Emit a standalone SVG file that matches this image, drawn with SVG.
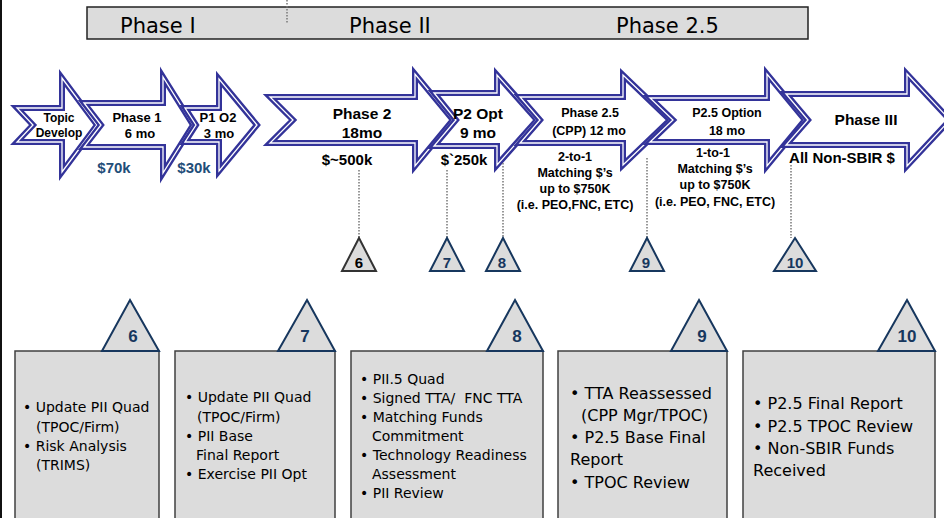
<svg xmlns="http://www.w3.org/2000/svg" width="944" height="518" viewBox="0 0 944 518">
<style>
.arrow{fill:#fff;stroke:#333399;stroke-width:6;stroke-linejoin:miter;stroke-miterlimit:10}
.arrowline{fill:none;stroke:#fff;stroke-width:1.3;stroke-linejoin:miter;stroke-miterlimit:10}
.at{font-family:"Liberation Sans",Arial,sans-serif;font-weight:bold;fill:#000;text-anchor:middle}
.money{font-family:"Liberation Sans",Arial,sans-serif;font-weight:bold;fill:#1f4e79;font-size:15px;text-anchor:middle}
.phase{font-family:"DejaVu Sans",sans-serif;font-size:21px;fill:#000}
.box{fill:#dcdcdc;stroke:#404040;stroke-width:1.5}
.bt{font-family:"DejaVu Sans",sans-serif;font-size:14px;fill:#000;white-space:pre}
.bt2{font-family:"DejaVu Sans",sans-serif;font-size:16px;fill:#000}
.tri{fill:#dcdcdc;stroke:#17375e;stroke-width:2;stroke-linejoin:miter}
.trig{fill:#dcdcdc;stroke:#333;stroke-width:2;stroke-linejoin:miter}
.tn{font-family:"Liberation Sans",Arial,sans-serif;font-weight:bold;fill:#17375e;text-anchor:middle}
.dot{stroke:#777;stroke-width:1.5;stroke-dasharray:1.5,1.5;fill:none}
</style>

<rect x="0" y="0" width="2" height="518" fill="#111"/>

<g id="phasebar">
<rect x="87" y="7" width="721" height="32" fill="#dcdcdc" stroke="#222" stroke-width="1.5"/>
<line x1="287" y1="0" x2="287" y2="23" class="dot"/>
<text class="phase" x="120" y="33">Phase I</text>
<text class="phase" x="349" y="33">Phase II</text>
<text class="phase" x="616" y="33">Phase 2.5</text>
</g>

<g id="arrow-topic">
<path class="arrow" d="M17,108 L62,108 L62,78 L97,125 L62,172 L62,142 L17,142 L33,125 Z"/>
<path class="arrowline" d="M17,108 L62,108 L62,78 L97,125 L62,172 L62,142 L17,142 L33,125 Z"/>
<text class="at" font-size="12" x="59" y="122">Topic</text>
<text class="at" font-size="12" x="59" y="137">Develop</text>
</g>
<g id="arrow-phase1">
<path class="arrow" d="M84,103 L163,103 L163,77 L193,125 L163,173 L163,147 L84,147 L101,125 Z"/>
<path class="arrowline" d="M84,103 L163,103 L163,77 L193,125 L163,173 L163,147 L84,147 L101,125 Z"/>
<text class="at" font-size="13" x="137" y="122">Phase 1</text>
<text class="at" font-size="13" x="140" y="138">6 mo</text>
<text class="money" x="114" y="173">$70k</text>
</g>
<g id="arrow-p1o2">
<path class="arrow" d="M185,108 L219,108 L219,79 L257,125 L219,171 L219,142 L185,142 L196,125 Z"/>
<path class="arrowline" d="M185,108 L219,108 L219,79 L257,125 L219,171 L219,142 L185,142 L196,125 Z"/>
<text class="at" font-size="13" x="218" y="122">P1 O2</text>
<text class="at" font-size="13" x="219" y="138">3 mo</text>
<text class="money" x="194" y="173">$30k</text>
</g>
<g id="arrow-phase2">
<path class="arrow" d="M270,97 L415,97 L415,74 L453,120 L415,166 L415,143 L270,143 L293,120 Z"/>
<path class="arrowline" d="M270,97 L415,97 L415,74 L453,120 L415,166 L415,143 L270,143 L293,120 Z"/>
<text class="at" font-size="15.5" x="362" y="119">Phase 2</text>
<text class="at" font-size="15.5" x="362" y="138">18mo</text>
<text class="at" font-size="15" x="347" y="165">$~500k</text>
</g>
<g id="arrow-p2opt">
<path class="arrow" d="M434,93 L497,93 L497,75 L537,120 L497,165 L497,146 L434,146 L456,120 Z"/>
<path class="arrowline" d="M434,93 L497,93 L497,75 L537,120 L497,165 L497,146 L434,146 L456,120 Z"/>
<text class="at" font-size="15.5" x="478" y="119">P2 Opt</text>
<text class="at" font-size="15.5" x="478" y="138">9 mo</text>
<text class="at" font-size="15" x="464" y="165">$`250k</text>
</g>
<g id="arrow-phase25">
<path class="arrow" d="M520,97 L623,97 L623,75 L670,120 L623,165 L623,143 L520,143 L540,120 Z"/>
<path class="arrowline" d="M520,97 L623,97 L623,75 L670,120 L623,165 L623,143 L520,143 L540,120 Z"/>
<text class="at" font-size="12.5" x="590" y="117">Phase 2.5</text>
<text class="at" font-size="12.5" x="589" y="135">(CPP) 12 mo</text>
<text class="at" font-size="12.5" x="575" y="161">2-to-1</text>
<text class="at" font-size="12.5" x="575" y="177">Matching $’s</text>
<text class="at" font-size="12.5" x="575" y="193">up to $750K</text>
<text class="at" font-size="12.5" x="575" y="209">(i.e. PEO,FNC, ETC)</text>
</g>
<g id="arrow-p25option">
<path class="arrow" d="M650,98 L767,98 L767,74 L805,120 L767,166 L767,142 L650,142 L673,120 Z"/>
<path class="arrowline" d="M650,98 L767,98 L767,74 L805,120 L767,166 L767,142 L650,142 L673,120 Z"/>
<text class="at" font-size="12.5" x="727" y="117">P2.5 Option</text>
<text class="at" font-size="12.5" x="727" y="135">18 mo</text>
<text class="at" font-size="12.5" x="713" y="157">1-to-1</text>
<text class="at" font-size="12.5" x="715" y="173">Matching $’s</text>
<text class="at" font-size="12.5" x="715" y="189">up to $750K</text>
<text class="at" font-size="12.5" x="715" y="206">(i.e. PEO, FNC, ETC)</text>
</g>
<g id="arrow-phase3">
<path class="arrow" d="M786,94 L907,94 L907,74 L950,120 L907,166 L907,145 L786,145 L808,120 Z"/>
<path class="arrowline" d="M786,94 L907,94 L907,74 L950,120 L907,166 L907,145 L786,145 L808,120 Z"/>
<text class="at" font-size="15.5" x="866" y="125">Phase III</text>
<text class="at" font-size="15" x="842" y="163">All Non-SBIR $</text>
</g>

<g id="connectors">
<line class="dot" x1="359" y1="170" x2="359" y2="238"/>
<line class="dot" x1="447" y1="170" x2="447" y2="238"/>
<line class="dot" x1="503" y1="163" x2="503" y2="238"/>
<line class="dot" x1="647" y1="158" x2="647" y2="238"/>
<line class="dot" x1="791" y1="165" x2="791" y2="238"/>
</g>

<g id="marker-6">
<polygon class="trig" points="359,238 376,271 342,271"/>
<text class="at" font-size="15" x="359" y="268">6</text>
</g>
<g id="marker-7">
<polygon class="tri" points="447,238 464,271 430,271"/>
<text class="tn" font-size="15" x="447" y="268">7</text>
</g>
<g id="marker-8">
<polygon class="tri" points="503,238 520,271 486,271"/>
<text class="tn" font-size="15" x="502" y="268">8</text>
</g>
<g id="marker-9">
<polygon class="tri" points="647,238 664,271 630,271"/>
<text class="tn" font-size="15" x="646" y="268">9</text>
</g>
<g id="marker-10">
<polygon class="tri" points="795,238 816,271 774,271"/>
<text class="tn" font-size="15" x="795" y="268">10</text>
</g>

<g id="box-6">
<rect class="box" x="15" y="351" width="144" height="180"/>
<polygon class="tri" points="130,300 159,351 102,351"/>
<text class="tn" font-size="17" x="133" y="342">6</text>
<text class="bt" x="23" y="412">• Update PII Quad</text>
<text class="bt" x="36" y="432">(TPOC/Firm)</text>
<text class="bt" x="23" y="451">• Risk Analysis</text>
<text class="bt" x="36" y="470">(TRIMS)</text>
</g>
<g id="box-7">
<rect class="box" x="175" y="351" width="160" height="180"/>
<polygon class="tri" points="307,300 335,351 278,351"/>
<text class="tn" font-size="17" x="305" y="342">7</text>
<text class="bt" x="185" y="402">• Update PII Quad</text>
<text class="bt" x="197" y="422">(TPOC/Firm)</text>
<text class="bt" x="185" y="441">• PII Base</text>
<text class="bt" x="196" y="460">Final Report</text>
<text class="bt" x="185" y="479">• Exercise PII Opt</text>
</g>
<g id="box-8">
<rect class="box" x="351" y="351" width="192" height="180"/>
<polygon class="tri" points="515,300 543,351 487,351"/>
<text class="tn" font-size="17" x="517" y="342">8</text>
<text class="bt" x="360" y="384">• PII.5 Quad</text>
<text class="bt" x="360" y="403">• Signed TTA/  FNC TTA</text>
<text class="bt" x="360" y="422">• Matching Funds</text>
<text class="bt" x="372" y="441">Commitment</text>
<text class="bt" x="360" y="460">• Technology Readiness</text>
<text class="bt" x="372" y="479">Assessment</text>
<text class="bt" x="360" y="498">• PII Review</text>
</g>
<g id="box-9">
<rect class="box" x="558" y="351" width="169" height="180"/>
<polygon class="tri" points="699,300 727,351 671,351"/>
<text class="tn" font-size="17" x="702" y="342">9</text>
<text class="bt2" x="570" y="399">• TTA Reassessed</text>
<text class="bt2" x="581" y="421">(CPP Mgr/TPOC)</text>
<text class="bt2" x="570" y="443">• P2.5 Base Final</text>
<text class="bt2" x="570" y="465">Report</text>
<text class="bt2" x="570" y="488">• TPOC Review</text>
</g>
<g id="box-10">
<rect class="box" x="743" y="351" width="192" height="180"/>
<polygon class="tri" points="907,300 935,351 878,351"/>
<text class="tn" font-size="17" x="907" y="342">10</text>
<text class="bt2" x="753" y="409">• P2.5 Final Report</text>
<text class="bt2" x="753" y="432">• P2.5 TPOC Review</text>
<text class="bt2" x="753" y="454">• Non-SBIR Funds</text>
<text class="bt2" x="753" y="476">Received</text>
</g>
</svg>
